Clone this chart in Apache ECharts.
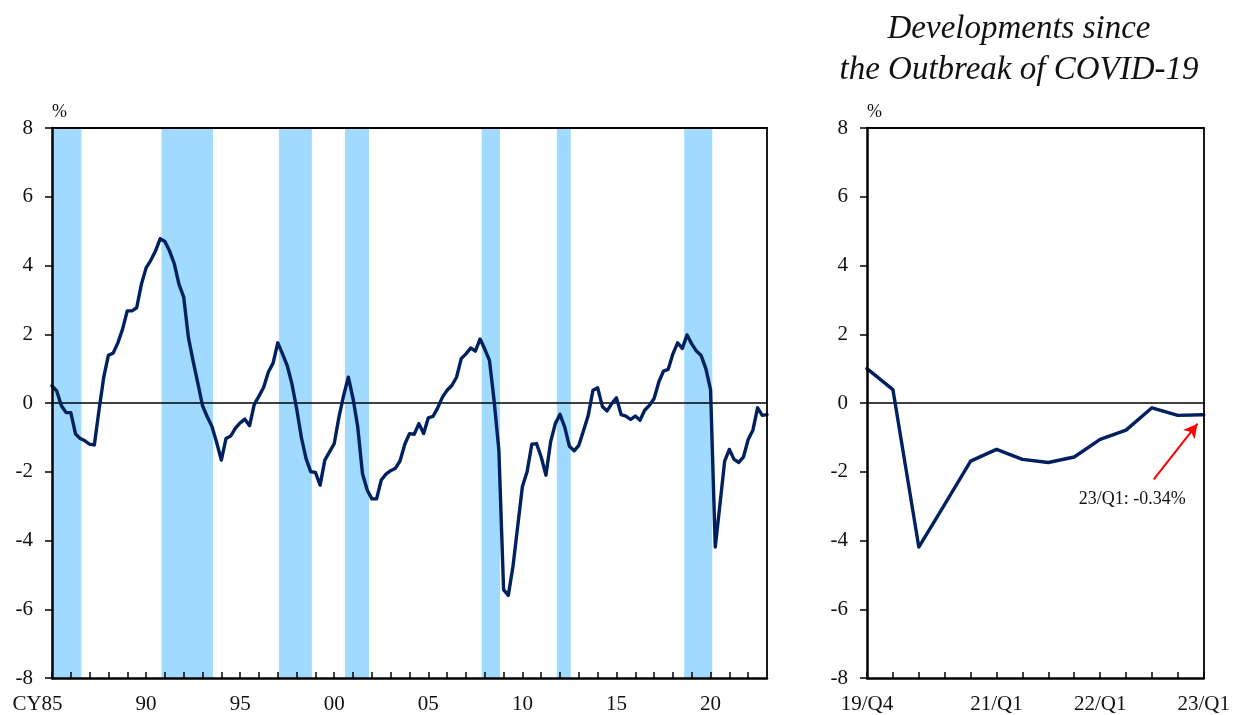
<!DOCTYPE html>
<html>
<head>
<meta charset="utf-8">
<script src="https://cdn.jsdelivr.net/npm/echarts@6/dist/echarts.min.js"></script>
<style>
  html, body { margin: 0; padding: 0; background: #fff; }
  #chart { width: 1233px; height: 715px; }
</style>
</head>
<body>
<div id="chart"></div>
<script>
// Quarterly series, 1985/Q1 .. 2023/Q1 (%)
const startYear = 1985;
const gap = [
  0.50, 0.35, -0.08, -0.28, -0.28, -0.90, -1.03, -1.10, -1.20, -1.22,
  -0.20, 0.75, 1.39, 1.45, 1.75, 2.15, 2.68, 2.68, 2.77, 3.45,
  3.93, 4.15, 4.42, 4.78, 4.70, 4.42, 4.05, 3.45, 3.08, 1.90,
  1.22, 0.58, -0.08, -0.40, -0.68, -1.15, -1.66, -1.03, -0.96, -0.73,
  -0.58, -0.47, -0.66, -0.04, 0.20, 0.46, 0.90, 1.16, 1.75, 1.43,
  1.09, 0.56, -0.16, -0.99, -1.61, -2.00, -2.02, -2.39, -1.66, -1.42,
  -1.18, -0.41, 0.22, 0.75, 0.13, -0.70, -2.05, -2.53, -2.79, -2.79,
  -2.24, -2.07, -1.97, -1.90, -1.68, -1.20, -0.89, -0.91, -0.60, -0.89,
  -0.43, -0.39, -0.14, 0.17, 0.37, 0.51, 0.75, 1.29, 1.43, 1.60,
  1.51, 1.86, 1.57, 1.24, 0.05, -1.37, -5.43, -5.60, -4.75, -3.59,
  -2.43, -2.00, -1.20, -1.18, -1.57, -2.10, -1.13, -0.60, -0.33, -0.70,
  -1.26, -1.39, -1.23, -0.80, -0.36, 0.37, 0.44, -0.10, -0.23, -0.02,
  0.15, -0.34, -0.38, -0.48, -0.38, -0.50, -0.21, -0.07, 0.13, 0.61,
  0.93, 0.98, 1.43, 1.75, 1.59, 1.98, 1.72, 1.51, 1.38, 1.00,
  0.39, -4.19, -2.95, -1.69, -1.35, -1.64, -1.73, -1.57, -1.06, -0.79,
  -0.14, -0.36, -0.34
];

// Shaded recession periods (decimal years)
const recessions = [
  [1985.05, 1986.56], [1990.82, 1993.56], [1997.06, 1998.81],
  [2000.57, 2001.85], [2007.84, 2008.81], [2011.83, 2012.57],
  [2018.60, 2020.09]
];

// Right panel: quarters since 2019/Q4
const recentQuarters = ['19/Q4','20/Q1','20/Q2','20/Q3','20/Q4','21/Q1','21/Q2','21/Q3','21/Q4','22/Q1','22/Q2','22/Q3','22/Q4','23/Q1'];
const recentShown = ['19/Q4', '21/Q1', '22/Q1', '23/Q1'];
const recentValues = gap.slice(gap.length - recentQuarters.length);
const latestNote = '23/Q1: -0.34%';

const yTicks = { min: -8, max: 8, interval: 2 };

const FONT = "'Liberation Serif', 'Times New Roman', serif";
const NAVY = '#002060';
const BAND = '#A0DAFF';

const leftData = gap.map((v, i) => [startYear + i / 4, v]);
const rightData = recentValues.map((v, i) => [i, v]);

function yAxisBase(gridIndex) {
  return {
    type: 'value', gridIndex, min: yTicks.min, max: yTicks.max, interval: yTicks.interval,
    name: '%', nameLocation: 'end', nameGap: 7,
    nameTextStyle: { fontFamily: FONT, fontSize: 18, color: '#111', align: 'left', verticalAlign: 'bottom' },
    axisLine: { show: true, onZero: false, lineStyle: { color: '#000', width: 2.5 } },
    axisTick: { show: true, inside: false, length: 7, lineStyle: { color: '#000', width: 1.5 } },
    axisLabel: { fontFamily: FONT, fontSize: 21, color: '#111', margin: 19 },
    splitLine: { show: false },
    z: 10
  };
}
function frameX(gridIndex, min, max) {
  return {
    type: 'value', gridIndex, position: 'top', min, max,
    axisLine: { show: true, onZero: false, lineStyle: { color: '#000', width: 2 } },
    axisTick: { show: false }, axisLabel: { show: false }, splitLine: { show: false }, z: 10
  };
}
function frameY(gridIndex) {
  return {
    type: 'value', gridIndex, position: 'right', min: yTicks.min, max: yTicks.max,
    axisLine: { show: true, onZero: false, lineStyle: { color: '#000', width: 1.8 } },
    axisTick: { show: false }, axisLabel: { show: false }, splitLine: { show: false }, z: 10
  };
}

const chart = echarts.init(document.getElementById('chart'), null, { renderer: 'canvas' });

const option = {
  animation: false,
  backgroundColor: '#fff',
  grid: [
    { left: 52, top: 128, right: 466, bottom: 35 },
    { left: 867, top: 128, right: 28, bottom: 35 }
  ],
  xAxis: [
    {
      type: 'value', gridIndex: 0, min: 1985, max: 2023, interval: 1,
      axisLine: { show: true, onZero: false, lineStyle: { color: '#000', width: 2.5 } },
      axisTick: { show: true, inside: true, length: 6, lineStyle: { color: '#000', width: 1.5 } },
      axisLabel: {
        fontFamily: FONT, fontSize: 21, color: '#111', margin: 16, showMaxLabel: false,
        // the first label carries a "CY" prefix while its year digits stay on the tick
        formatter: v => (v % 5 !== 0) ? '' : (v === 1985 ? '{first|CY85}' : String(v).slice(2)),
        rich: {
          first: { fontFamily: FONT, fontSize: 21, color: '#111', padding: [0, 29, 0, 0] }
        }
      },
      splitLine: { show: false }, z: 10
    },
    {
      type: 'value', gridIndex: 1, min: 0, max: recentQuarters.length - 1, interval: 1,
      axisLine: { show: true, onZero: false, lineStyle: { color: '#000', width: 2.5 } },
      axisTick: { show: true, inside: true, length: 6, lineStyle: { color: '#000', width: 1.5 } },
      axisLabel: {
        fontFamily: FONT, fontSize: 21, color: '#111', margin: 16,
        formatter: v => recentShown.includes(recentQuarters[v]) ? recentQuarters[v] : ''
      },
      splitLine: { show: false }, z: 10
    },
    frameX(0, 1985, 2023),
    frameX(1, 0, recentQuarters.length - 1)
  ],
  yAxis: [yAxisBase(0), yAxisBase(1), frameY(0), frameY(1)],
  series: [
    {
      type: 'line', xAxisIndex: 0, yAxisIndex: 0, data: leftData,
      showSymbol: false, symbol: 'none',
      lineStyle: { color: NAVY, width: 3.4, join: 'round', cap: 'round' },
      z: 5,
      markArea: {
        silent: true,
        itemStyle: { color: BAND, opacity: 1 },
        data: recessions.map(r => [{ xAxis: r[0] }, { xAxis: r[1] }])
      },
      markLine: {
        silent: true, animation: false, symbol: ['none', 'none'],
        lineStyle: { color: '#000', width: 1.5, type: 'solid' },
        label: { show: false },
        data: [{ yAxis: 0 }]
      }
    },
    {
      type: 'line', xAxisIndex: 1, yAxisIndex: 1, data: rightData,
      showSymbol: false, symbol: 'none',
      lineStyle: { color: NAVY, width: 3.4, join: 'round', cap: 'round' },
      z: 5,
      markLine: {
        silent: true, animation: false, symbol: ['none', 'none'],
        label: { show: false },
        data: [
          { yAxis: 0, lineStyle: { color: '#000', width: 1.5, type: 'solid' } },
          [
            { coord: [11.07, -2.22], symbol: 'none', lineStyle: { color: '#FF0000', width: 2, type: 'solid' } },
            { coord: [12.76, -0.60], symbol: 'arrow', symbolSize: [11, 14] }
          ]
        ],
        lineStyle: { color: '#FF0000', width: 2, type: 'solid' }
      }
    }
  ]
};
chart.setOption(option);

// Title and value note (note placed in data coordinates of the right panel)
const notePos = chart.convertToPixel({ xAxisIndex: 1, yAxisIndex: 1 }, [10.24, -2.79]);
chart.setOption({
  graphic: [
    {
      type: 'text', x: 1019, y: 9,
      style: {
        text: 'Developments since\nthe Outbreak of COVID-19',
        fontFamily: FONT, fontStyle: 'italic', fontSize: 33, lineHeight: 41,
        fill: '#111', align: 'center', verticalAlign: 'top'
      }
    },
    {
      type: 'text', x: notePos[0], y: notePos[1],
      style: {
        text: latestNote, fontFamily: FONT, fontSize: 18, fill: '#111',
        align: 'center', verticalAlign: 'middle'
      }
    }
  ]
});
</script>
</body>
</html>
